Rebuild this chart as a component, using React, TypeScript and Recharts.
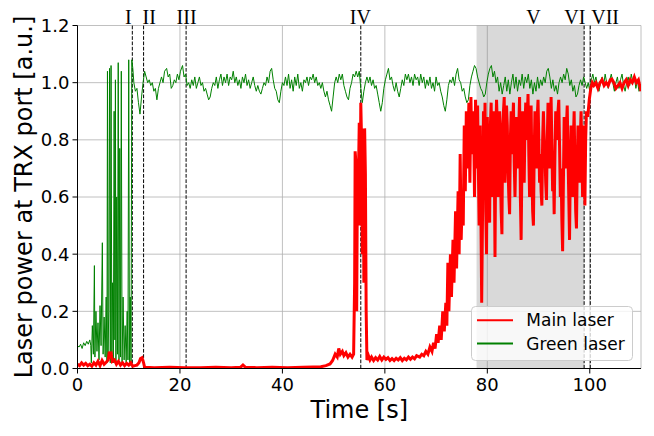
import { LineChart, Line, XAxis, YAxis, CartesianGrid, ReferenceArea, ReferenceLine, Legend } from 'recharts'

const FONT = "'DejaVu Sans', sans-serif"
const SERIF = "'Liberation Serif', 'DejaVu Serif', serif"

const xTicks = [0, 20, 40, 60, 80, 100]
const yTicks = [0, 0.2, 0.4, 0.6, 0.8, 1.0, 1.2]

// dashed event markers [s]
const eventLines = [10.7, 12.9, 21.2, 55.3, 98.9, 100.1]
const eventLabels: [string, number][] = [
  ['I', 9.9], ['II', 14.0], ['III', 21.3], ['IV', 55.2], ['V', 89.0], ['VI', 97.1], ['VII', 103.0],
]
const shadedSpan = [77.9, 98.9]

// [time s, power a.u.]
const mainLaser: [number, number][] = [
  [0, 0.015], [0.4, 0.01], [0.8, 0.02], [1.2, 0.012], [1.6, 0.018], [2.0, 0.01], [2.4, 0.015], [2.8, 0.008],
  [3.2, 0.02], [3.6, 0.012], [4.0, 0.025], [4.4, 0.01], [4.8, 0.028], [5.2, 0.015], [5.6, 0.022], [6.0, 0.03],
  [6.2, 0.059], [6.4, 0.045], [6.6, 0.05], [6.8, 0.025], [7.2, 0.03], [7.6, 0.015], [8.0, 0.025], [8.4, 0.012],
  [8.8, 0.02], [9.2, 0.01], [9.6, 0.018], [10.0, 0.012], [10.4, 0.02], [10.8, 0.008], [11.2, 0.01], [11.6, 0.012],
  [12.0, 0.02], [12.3, 0.035], [12.6, 0.038], [12.9, 0.02], [13.1, 0.004], [15, 0.003], [18, 0.004], [21, 0.003],
  [24, 0.003], [27, 0.004], [30, 0.003], [31.8, 0.004], [32.3, 0.012], [32.8, 0.004], [35, 0.003], [38, 0.004],
  [41, 0.003], [44, 0.004], [46, 0.005], [47.5, 0.006], [48.5, 0.01], [49.3, 0.016], [49.8, 0.028], [50.3, 0.05],
  [50.7, 0.04], [51.0, 0.07], [51.3, 0.05], [51.7, 0.06], [52.0, 0.045], [52.4, 0.055], [52.8, 0.04], [53.2, 0.05],
  [53.6, 0.04], [53.9, 0.05], [54.1, 0.3], [54.2, 0.76], [54.35, 0.72], [54.5, 0.2], [54.65, 0.7], [54.8, 0.62],
  [55.0, 0.86], [55.15, 0.5], [55.3, 0.93], [55.45, 0.8], [55.6, 0.4], [55.75, 0.84], [55.9, 0.3], [56.05, 0.84],
  [56.2, 0.68], [56.35, 0.2], [56.5, 0.03], [56.8, 0.045], [57.1, 0.03], [57.4, 0.04], [57.8, 0.028], [58.2, 0.038],
  [58.6, 0.03], [59.0, 0.042], [59.4, 0.03], [59.8, 0.04], [60.2, 0.032], [60.6, 0.038], [61.0, 0.028], [61.4, 0.035],
  [61.8, 0.028], [62.2, 0.036], [62.6, 0.03], [63.0, 0.038], [63.4, 0.028], [63.8, 0.036], [64.2, 0.03], [64.6, 0.04],
  [65.0, 0.032], [65.4, 0.04], [65.8, 0.034], [66.2, 0.045], [66.8, 0.04], [67.2, 0.05], [67.6, 0.045], [68.0, 0.06],
  [68.4, 0.05], [68.8, 0.075], [69.2, 0.06], [69.5, 0.09], [69.8, 0.07], [70.1, 0.12], [70.4, 0.09], [70.7, 0.15],
  [71.0, 0.1], [71.3, 0.2], [71.6, 0.13], [71.9, 0.23], [72.1, 0.15], [72.3, 0.37], [72.5, 0.2], [72.8, 0.4],
  [73.0, 0.25], [73.3, 0.45], [73.5, 0.3], [73.8, 0.55], [74.0, 0.35], [74.3, 0.62], [74.5, 0.4], [74.7, 0.75],
  [74.9, 0.45], [75.1, 0.6], [75.3, 0.5], [75.5, 0.85], [75.7, 0.62], [75.9, 0.9], [76.1, 0.7], [76.4, 0.93],
  [76.6, 0.65], [76.8, 0.95], [77.0, 0.75], [77.3, 0.9], [77.5, 0.6], [77.7, 0.94], [77.9, 0.7], [78.1, 0.92],
  [78.4, 0.5], [78.6, 0.85], [78.9, 0.23], [79.1, 0.6], [79.25, 0.9], [79.4, 0.7], [79.55, 0.93], [79.7, 0.55],
  [79.85, 0.4], [80.0, 0.88], [80.15, 0.7], [80.3, 0.55], [80.45, 0.51], [80.6, 0.85], [80.75, 0.93], [80.9, 0.7],
  [81.05, 0.6], [81.2, 0.9], [81.35, 0.75], [81.5, 0.39], [81.65, 0.8], [81.8, 0.94], [81.95, 0.85], [82.1, 0.6],
  [82.25, 0.78], [82.4, 0.9], [82.55, 0.7], [82.7, 0.55], [82.85, 0.47], [83.0, 0.85], [83.15, 0.9], [83.3, 0.95],
  [83.45, 0.65], [83.6, 0.8], [83.75, 0.92], [83.9, 0.85], [84.05, 0.7], [84.2, 0.6], [84.35, 0.54], [84.5, 0.8],
  [84.65, 0.9], [84.8, 0.75], [84.95, 0.85], [85.1, 0.93], [85.25, 0.72], [85.4, 0.6], [85.55, 0.75], [85.7, 0.88],
  [85.85, 0.8], [86.0, 0.7], [86.15, 0.85], [86.3, 0.95], [86.45, 0.6], [86.6, 0.45], [86.75, 0.7], [86.9, 0.9],
  [87.05, 0.8], [87.2, 0.65], [87.35, 0.85], [87.5, 0.93], [87.65, 0.8], [87.8, 0.88], [87.95, 0.96], [88.1, 0.75],
  [88.25, 0.6], [88.4, 0.8], [88.55, 0.92], [88.7, 0.7], [88.85, 0.55], [89.0, 0.5], [89.15, 0.75], [89.3, 0.9],
  [89.45, 0.8], [89.6, 0.7], [89.75, 0.88], [89.9, 0.94], [90.05, 0.8], [90.2, 0.65], [90.35, 0.75], [90.5, 0.62],
  [90.65, 0.57], [90.8, 0.8], [90.95, 0.9], [91.1, 0.8], [91.25, 0.75], [91.4, 0.65], [91.55, 0.59], [91.7, 0.8],
  [91.85, 0.93], [92.0, 0.82], [92.15, 0.7], [92.3, 0.85], [92.45, 0.95], [92.6, 0.78], [92.75, 0.62], [92.9, 0.7],
  [93.05, 0.54], [93.2, 0.75], [93.35, 0.9], [93.5, 0.85], [93.65, 0.8], [93.8, 0.9], [93.95, 0.94], [94.1, 0.78],
  [94.25, 0.6], [94.4, 0.7], [94.55, 0.52], [94.7, 0.41], [94.85, 0.65], [95.0, 0.88], [95.15, 0.8], [95.3, 0.7],
  [95.45, 0.85], [95.6, 0.92], [95.75, 0.75], [95.9, 0.6], [96.05, 0.45], [96.2, 0.7], [96.35, 0.85], [96.5, 0.75],
  [96.65, 0.6], [96.8, 0.8], [96.95, 0.9], [97.1, 0.7], [97.25, 0.55], [97.4, 0.49], [97.55, 0.7], [97.7, 0.85],
  [97.85, 0.75], [98.0, 0.65], [98.15, 0.8], [98.3, 0.9], [98.45, 0.75], [98.6, 0.6], [98.75, 0.7], [98.9, 0.85],
  [99.05, 0.57], [99.2, 0.8], [99.35, 0.9], [99.6, 0.88], [99.9, 0.94], [100.2, 0.98], [100.5, 1.0], [100.8, 0.99],
  [101.2, 1.0], [101.6, 0.98], [102.0, 1.0], [102.4, 1.01], [102.8, 0.99], [103.2, 1.0], [103.6, 0.99], [104.0, 1.01],
  [104.3, 1.013], [104.7, 1.0], [105.1, 0.98], [105.5, 0.99], [105.9, 1.0], [106.3, 0.98], [106.7, 1.0], [107.1, 1.01],
  [107.5, 0.99], [107.9, 1.01], [108.3, 1.0], [108.7, 1.02], [109.1, 1.0], [109.5, 1.01], [110.0, 0.97],
]

const greenLaser: [number, number][] = [
  [0, 0.08], [0.3, 0.075], [0.6, 0.085], [0.9, 0.07], [1.2, 0.09], [1.5, 0.08], [1.8, 0.095], [2.1, 0.085],
  [2.4, 0.1], [2.6, 0.08], [2.7, 0.02], [2.9, 0.15], [3.1, 0.05], [3.3, 0.36], [3.4, 0.04], [3.6, 0.2],
  [3.8, 0.06], [4.0, 0.16], [4.2, 0.03], [4.4, 0.22], [4.6, 0.08], [4.85, 0.44], [5.0, 0.05], [5.2, 0.18],
  [5.4, 0.04], [5.6, 0.25], [5.75, 0.02], [5.85, 1.04], [5.95, 0.03], [6.1, 0.2], [6.25, 1.05], [6.4, 0.02],
  [6.55, 1.06], [6.7, 0.05], [6.85, 0.3], [7.0, 0.02], [7.15, 0.9], [7.3, 0.1], [7.4, 1.01], [7.5, 0.02],
  [7.65, 0.6], [7.8, 0.05], [7.95, 1.07], [8.1, 0.03], [8.25, 0.77], [8.4, 0.04], [8.55, 1.04], [8.7, 0.02],
  [8.9, 0.25], [9.1, 0.03], [9.3, 0.15], [9.5, 0.02], [9.7, 0.2], [9.85, 0.03], [10.0, 1.08], [10.15, 0.02],
  [10.3, 0.25], [10.45, 0.01], [10.6, 1.08], [10.8, 1.05], [11.0, 1.0], [11.3, 0.97], [11.6, 0.98], [11.9, 0.93],
  [12.2, 0.89], [12.5, 0.95], [12.8, 1.0], [13.1, 1.04], [13.4, 1.02], [13.7, 1.0], [14.0, 1.01], [14.3, 0.99],
  [14.6, 1.0], [14.9, 0.97], [15.2, 0.98], [15.5, 0.94], [15.8, 0.98], [16.1, 1.0], [16.4, 1.02], [16.7, 1.0],
  [17.0, 1.04], [17.4, 1.05], [17.7, 1.02], [18.0, 1.03], [18.3, 0.98], [18.6, 0.99], [18.9, 1.01], [19.2, 1.0],
  [19.5, 1.03], [19.8, 1.01], [20.1, 1.04], [20.5, 1.06], [20.8, 1.02], [21.1, 1.03], [21.4, 0.99], [21.7, 1.0],
  [22.0, 0.98], [22.3, 1.01], [22.6, 0.99], [22.9, 1.02], [23.2, 0.98], [23.5, 1.0], [23.8, 1.02], [24.1, 0.99],
  [24.4, 1.0], [24.7, 0.97], [25.0, 0.98], [25.3, 0.96], [25.6, 0.94], [25.9, 0.95], [26.2, 0.98], [26.5, 1.0],
  [26.8, 0.99], [27.1, 1.02], [27.4, 0.98], [27.7, 1.01], [28.0, 1.03], [28.3, 0.99], [28.6, 1.02], [28.9, 1.0],
  [29.2, 1.03], [29.5, 0.99], [29.8, 1.02], [30.1, 1.01], [30.4, 1.04], [30.7, 1.0], [31.0, 1.02], [31.3, 0.99],
  [31.6, 1.01], [31.9, 0.98], [32.2, 1.02], [32.5, 1.0], [32.8, 1.03], [33.1, 0.99], [33.4, 1.01], [33.7, 0.98],
  [34.0, 1.0], [34.3, 1.02], [34.6, 0.99], [34.9, 0.97], [35.2, 0.99], [35.5, 0.97], [35.8, 0.96], [36.1, 0.98],
  [36.4, 1.0], [36.7, 0.99], [37.0, 1.02], [37.3, 1.0], [37.6, 1.04], [37.9, 1.05], [38.2, 1.01], [38.5, 0.98],
  [38.8, 0.97], [39.1, 0.94], [39.4, 0.93], [39.7, 0.97], [40.0, 1.0], [40.3, 0.99], [40.6, 1.02], [40.9, 0.99],
  [41.2, 1.03], [41.5, 0.98], [41.8, 1.01], [42.1, 0.97], [42.4, 1.02], [42.7, 0.99], [43.0, 1.03], [43.3, 0.98],
  [43.6, 1.0], [43.9, 0.97], [44.2, 1.01], [44.5, 1.0], [44.8, 1.02], [45.1, 0.99], [45.4, 1.02], [45.7, 1.01],
  [46.0, 1.03], [46.3, 1.0], [46.6, 1.02], [46.9, 0.99], [47.2, 1.0], [47.5, 0.98], [47.8, 1.0], [48.1, 0.97],
  [48.4, 0.95], [48.7, 0.97], [49.0, 0.94], [49.3, 0.92], [49.6, 0.9], [49.9, 0.95], [50.2, 1.0], [50.5, 1.02],
  [50.8, 1.0], [51.1, 1.03], [51.4, 1.01], [51.7, 1.03], [52.0, 0.99], [52.3, 0.97], [52.6, 0.95], [52.9, 0.94],
  [53.2, 0.98], [53.5, 1.0], [53.8, 1.03], [54.1, 1.02], [54.4, 1.04], [54.7, 1.02], [55.0, 1.04], [55.3, 0.98],
  [55.6, 0.93], [55.9, 0.97], [56.2, 1.0], [56.5, 1.02], [56.8, 1.0], [57.1, 1.02], [57.4, 0.99], [57.7, 1.01],
  [58.0, 0.98], [58.3, 0.99], [58.6, 0.96], [58.9, 0.93], [59.2, 0.9], [59.5, 0.93], [59.8, 0.98], [60.1, 1.01],
  [60.4, 1.03], [60.7, 1.05], [61.0, 1.01], [61.3, 1.02], [61.6, 0.99], [61.9, 0.97], [62.2, 1.0], [62.5, 0.97],
  [62.8, 0.95], [63.1, 0.98], [63.4, 1.01], [63.7, 0.99], [64.0, 1.03], [64.3, 1.01], [64.6, 1.03], [64.9, 1.0],
  [65.2, 1.02], [65.5, 0.99], [65.8, 1.03], [66.1, 1.01], [66.4, 1.02], [66.7, 0.99], [67.0, 1.03], [67.3, 1.0],
  [67.6, 1.02], [67.9, 0.98], [68.2, 1.01], [68.5, 0.99], [68.8, 1.02], [69.1, 0.98], [69.4, 1.0], [69.7, 0.97],
  [70.0, 1.02], [70.3, 0.99], [70.6, 1.0], [70.9, 0.97], [71.2, 0.95], [71.5, 0.92], [71.8, 0.9], [72.1, 0.94],
  [72.4, 0.99], [72.7, 1.01], [73.0, 1.0], [73.3, 1.02], [73.6, 0.99], [73.9, 1.03], [74.2, 1.05], [74.5, 1.01],
  [74.8, 1.0], [75.1, 0.97], [75.4, 0.98], [75.7, 0.95], [76.0, 0.93], [76.3, 0.94], [76.6, 0.99], [76.9, 1.02],
  [77.2, 1.04], [77.5, 1.06], [77.8, 1.05], [78.1, 1.02], [78.4, 1.0], [78.7, 0.98], [79.0, 0.97], [79.3, 0.95],
  [79.6, 0.96], [79.9, 1.0], [80.2, 1.03], [80.5, 1.05], [80.8, 1.06], [81.1, 1.02], [81.4, 1.04], [81.7, 1.0],
  [82.0, 1.02], [82.3, 0.97], [82.6, 1.0], [82.9, 0.96], [83.2, 0.99], [83.5, 1.02], [83.8, 0.97], [84.1, 1.01],
  [84.4, 0.96], [84.7, 1.0], [85.0, 1.03], [85.3, 0.98], [85.6, 1.02], [85.9, 0.97], [86.2, 1.01], [86.5, 0.99],
  [86.8, 1.03], [87.1, 0.98], [87.4, 1.02], [87.7, 1.0], [88.0, 1.03], [88.3, 0.98], [88.6, 1.01], [88.9, 0.96],
  [89.2, 1.0], [89.5, 0.97], [89.8, 1.02], [90.1, 0.98], [90.4, 1.01], [90.7, 0.99], [91.0, 1.02], [91.3, 1.0],
  [91.6, 1.04], [91.9, 1.05], [92.2, 1.02], [92.5, 0.98], [92.8, 1.01], [93.1, 0.97], [93.4, 0.99], [93.7, 0.96],
  [94.0, 1.0], [94.3, 1.02], [94.6, 1.0], [94.9, 1.03], [95.2, 1.01], [95.5, 1.05], [95.8, 1.03], [96.1, 0.99],
  [96.4, 1.01], [96.7, 0.97], [97.0, 0.99], [97.3, 0.95], [97.6, 0.96], [97.9, 0.99], [98.2, 1.01], [98.5, 0.99],
  [98.8, 1.02], [99.1, 1.0], [99.4, 0.98], [99.7, 1.0], [100.0, 0.97], [100.3, 1.01], [100.6, 1.03], [100.9, 1.0],
  [101.2, 1.02], [101.5, 0.99], [101.8, 0.97], [102.1, 1.0], [102.4, 1.02], [102.7, 0.99], [103.0, 1.03], [103.3, 1.0],
  [103.6, 0.98], [103.9, 1.01], [104.2, 1.03], [104.5, 1.0], [104.8, 0.97], [105.1, 1.0], [105.4, 1.02], [105.7, 0.98],
  [106.0, 1.01], [106.3, 1.03], [106.6, 0.99], [106.9, 0.97], [107.2, 1.0], [107.5, 1.02], [107.8, 0.99], [108.1, 1.03],
  [108.4, 1.0], [108.7, 1.02], [109.0, 0.98], [109.3, 1.01], [109.6, 0.97], [110.0, 0.98],
]

const legendItems = [
  { name: 'Main laser', color: '#ff0000' },
  { name: 'Green laser', color: '#008000' },
]

const mainData = mainLaser.map(([t, v]) => ({ t, v }))
const greenData = greenLaser.map(([t, v]) => ({ t, v }))

function XTitle(props: any) {
  const vb = props.viewBox || { x: 77.5, y: 368.5, width: 563.5, height: 67.5 }
  return (
    <text x={vb.x + vb.width / 2} y={vb.y + 49} textAnchor="middle" fontSize={24} fontFamily={FONT} fill="#000">
      Time [s]
    </text>
  )
}

function YTitle(props: any) {
  const vb = props.viewBox || { x: 0, y: 25.5, width: 77.5, height: 343 }
  const cx = 32
  const cy = vb.y + vb.height / 2
  return (
    <text x={cx} y={cy} transform={`rotate(-90, ${cx}, ${cy})`} textAnchor="middle" fontSize={24} fontFamily={FONT} fill="#000">
      Laser power at TRX port [a.u.]
    </text>
  )
}

function LegendBox() {
  return (
    <svg width={162} height={55} style={{ display: 'block' }}>
      <rect x={0.5} y={0.5} width={161} height={54} rx={4} fill="#ffffff" fillOpacity={0.8} stroke="#cccccc" />
      {legendItems.map((item, i) => (
        <g key={item.name}>
          <line x1={6} x2={42} y1={14.3 + i * 23.3} y2={14.3 + i * 23.3} stroke={item.color} strokeWidth={2} />
          <text x={55.3} y={20 + i * 24.3} fontSize={17} fontFamily={FONT} fill="#000">
            {item.name}
          </text>
        </g>
      ))}
    </svg>
  )
}

export default function App() {
  return (
    <div style={{ position: 'absolute', left: 0, top: 0, width: 654, height: 436, background: '#fff' }}>
      <LineChart width={654} height={436} margin={{ top: 25.5, right: 13, bottom: 0, left: 0 }}>
        <CartesianGrid stroke="#b0b0b0" strokeWidth={0.8} />
        <ReferenceArea x1={shadedSpan[0]} x2={shadedSpan[1]} y1={0} y2={1.2} fill="#808080" fillOpacity={0.3} stroke="none" />
        <XAxis
          dataKey="t"
          type="number"
          domain={[0, 110]}
          ticks={xTicks}
          allowDataOverflow
          height={67.5}
          stroke="#000"
          tickSize={5}
          tickMargin={5}
          tick={{ fill: '#000', fontSize: 18, fontFamily: FONT }}
          label={<XTitle />}
        />
        <YAxis
          type="number"
          domain={[0, 1.2]}
          ticks={yTicks}
          allowDataOverflow
          width={77.5}
          stroke="#000"
          tickSize={5}
          tickMargin={3}
          tick={{ fill: '#000', fontSize: 18, fontFamily: FONT }}
          tickFormatter={(v: number) => v.toFixed(1)}
          label={<YTitle />}
        />
        <XAxis xAxisId="top" orientation="top" type="number" domain={[0, 110]} height={0} tick={false} tickLine={false} stroke="#000" />
        <YAxis yAxisId="right" orientation="right" type="number" domain={[0, 1.2]} width={0} tick={false} tickLine={false} stroke="#000" />
        {eventLines.map((x) => (
          <ReferenceLine key={x} x={x} stroke="#000" strokeWidth={1} strokeDasharray="3.7 1.6" />
        ))}
        {eventLabels.map(([name, x]) => (
          <ReferenceLine
            key={name}
            x={x}
            stroke="none"
            label={{ value: name, position: 'top', offset: 1.5, fontSize: 20, fontFamily: SERIF, fill: '#000' }}
          />
        ))}
        <Line data={greenData} dataKey="v" type="linear" stroke="#008000" strokeWidth={1} dot={false} activeDot={false} isAnimationActive={false} />
        <Line data={mainData} dataKey="v" type="linear" stroke="#ff0000" strokeWidth={3} dot={false} activeDot={false} isAnimationActive={false} />
        <Legend
          layout="horizontal"
          verticalAlign="middle"
          align="center"
          content={<LegendBox />}
          wrapperStyle={{ left: 470.7, top: 305.7, width: 162, height: 55 }}
        />
      </LineChart>
    </div>
  )
}
